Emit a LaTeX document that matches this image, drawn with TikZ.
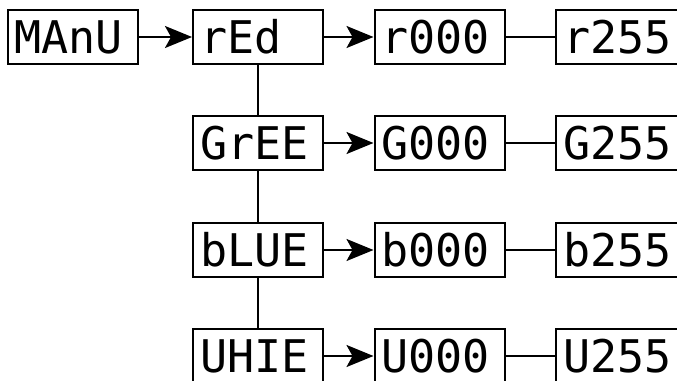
\documentclass[tikz,border=0pt]{standalone}
\usepackage{fontspec}
\setmonofont{DejaVu Sans Mono}
\usetikzlibrary{arrows.meta}
\begin{document}
\begin{tikzpicture}[x=1pt,y=-1pt,
  lcd/.style={draw, line width=2pt, rectangle, minimum height=54pt,
    minimum width=130pt, inner sep=0pt, anchor=center},
  lcdtext/.style={inner sep=0pt, anchor=west, xshift=8pt,
    text height=33pt, text depth=0pt,
    font=\ttfamily\fontsize{45}{45}\selectfont},
  conn/.style={line width=2pt},
  arr/.style={line width=2pt, -{Stealth[length=27pt,width=22pt,inset=6pt]}}]
\useasboundingbox (0,0) rectangle (677,380);
\node[lcd] (manu) at (72.5,37) {};
\node[lcd] (red) at (258,37) {};
\node[lcd] (gree) at (258,143) {};
\node[lcd] (blue) at (258,250) {};
\node[lcd] (uhie) at (258,356) {};
\node[lcd] (r000) at (439.5,37) {};
\node[lcd] (g000) at (439.5,143) {};
\node[lcd] (b000) at (439.5,250) {};
\node[lcd] (u000) at (439.5,356) {};
\node[lcd] (r255) at (621,37) {};
\node[lcd] (g255) at (621,143) {};
\node[lcd] (b255) at (621,250) {};
\node[lcd] (u255) at (621,356) {};
\node[lcdtext] (manut) at (manu.west) {MAnU};
\node[lcdtext] (redt) at (red.west) {rEd};
\node[lcdtext] (greet) at (gree.west) {GrEE};
\node[lcdtext] (bluet) at (blue.west) {bLUE};
\node[lcdtext] (uhiet) at (uhie.west) {UHIE};
\node[lcdtext] (r000t) at (r000.west) {r000};
\node[lcdtext] (g000t) at (g000.west) {G000};
\node[lcdtext] (b000t) at (b000.west) {b000};
\node[lcdtext] (u000t) at (u000.west) {U000};
\node[lcdtext] (r255t) at (r255.west) {r255};
\node[lcdtext] (g255t) at (g255.west) {G255};
\node[lcdtext] (b255t) at (b255.west) {b255};
\node[lcdtext] (u255t) at (u255.west) {U255};
\draw[arr] (manu) -- (red);
\draw[arr] (red) -- (r000);
\draw[arr] (gree) -- (g000);
\draw[arr] (blue) -- (b000);
\draw[arr] (uhie) -- (u000);
\draw[conn] (r000) -- (r255);
\draw[conn] (g000) -- (g255);
\draw[conn] (b000) -- (b255);
\draw[conn] (u000) -- (u255);
\draw[conn] (red) -- (gree);
\draw[conn] (gree) -- (blue);
\draw[conn] (blue) -- (uhie);
\end{tikzpicture}
\end{document}
